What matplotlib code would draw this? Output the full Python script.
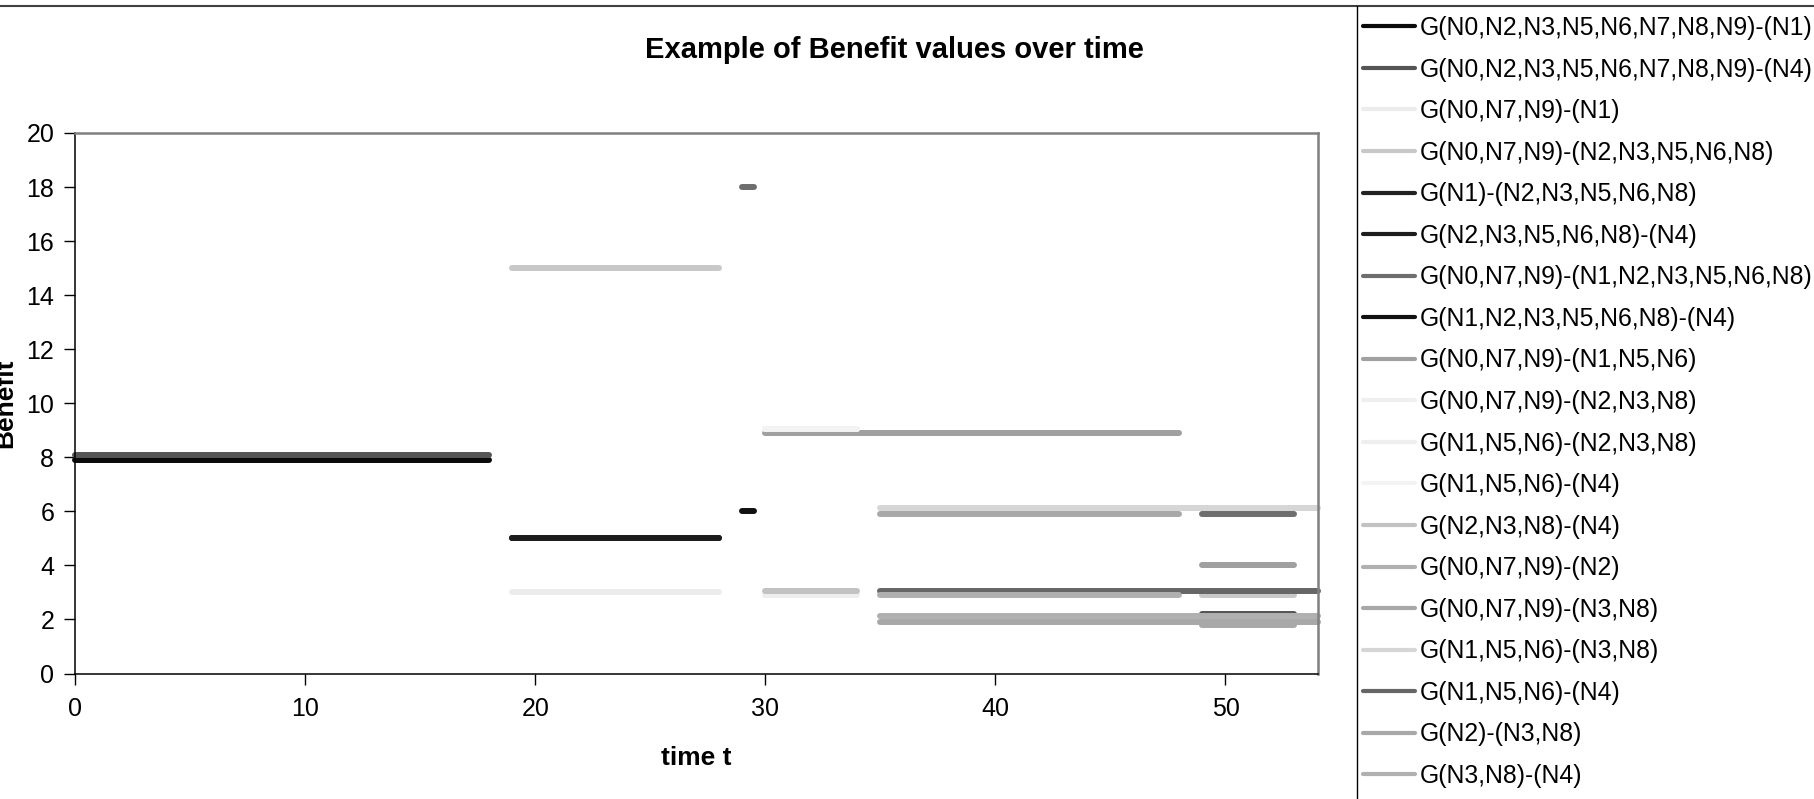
import numpy as np
import matplotlib
matplotlib.use("Agg")
import matplotlib.pyplot as plt
from matplotlib.lines import Line2D

plt.rcParams['font.family'] = ['Liberation Sans', 'DejaVu Sans']

# ---------------- data ----------------
series_labels = [
    "G(N0,N2,N3,N5,N6,N7,N8,N9)-(N1)",
    "G(N0,N2,N3,N5,N6,N7,N8,N9)-(N4)",
    "G(N0,N7,N9)-(N1)",
    "G(N0,N7,N9)-(N2,N3,N5,N6,N8)",
    "G(N1)-(N2,N3,N5,N6,N8)",
    "G(N2,N3,N5,N6,N8)-(N4)",
    "G(N0,N7,N9)-(N1,N2,N3,N5,N6,N8)",
    "G(N1,N2,N3,N5,N6,N8)-(N4)",
    "G(N0,N7,N9)-(N1,N5,N6)",
    "G(N0,N7,N9)-(N2,N3,N8)",
    "G(N1,N5,N6)-(N2,N3,N8)",
    "G(N1,N5,N6)-(N4)",
    "G(N2,N3,N8)-(N4)",
    "G(N0,N7,N9)-(N2)",
    "G(N0,N7,N9)-(N3,N8)",
    "G(N1,N5,N6)-(N3,N8)",
    "G(N1,N5,N6)-(N4)",
    "G(N2)-(N3,N8)",
    "G(N3,N8)-(N4)",
]
series_colors = [
    "#0a0a0a", "#555555", "#ececec", "#c8c8c8", "#222222", "#1c1c1c",
    "#6e6e6e", "#111111", "#a0a0a0", "#efefef", "#eeeeee", "#f3f3f3",
    "#c2c2c2", "#b0b0b0", "#a8a8a8", "#d6d6d6", "#666666", "#a8a8a8",
    "#b0b0b0",
]

# segments: series index (0-based), start time, end time, benefit value
seg_series = [0, 1, 2, 3, 4, 5, 6, 7, 8, 9, 10, 11, 12,
              13, 14, 15, 16, 17, 18, 6, 8, 3, 1, 14]
seg_t0 = [0, 0, 19, 19, 19, 19, 29, 29, 30, 30, 30, 30, 30,
          35, 35, 35, 35, 35, 35, 49, 49, 49, 49, 49]
seg_t1 = [18, 18, 28, 28, 28, 28, 29.5, 29.5, 48, 34, 34, 34, 34,
          54, 48, 54, 54, 54, 48, 53, 53, 53, 53, 53]
seg_value = [7.9, 8.1, 3.0, 15.0, 5.0, 5.0, 18.0, 6.0, 8.9, 9.05, 2.92, 9.05, 3.05,
             2.13, 5.9, 6.13, 3.07, 1.9, 2.92, 5.9, 4.0, 2.92, 2.19, 1.8]

xticks = [0, 10, 20, 30, 40, 50]
yticks = [0, 2, 4, 6, 8, 10, 12, 14, 16, 18, 20]

# ---------------- figure ----------------
W, H = 1814, 799
fig = plt.figure(figsize=(W / 100, H / 100), dpi=100)
ax = fig.add_axes([75.2 / W, 1 - 673.5 / H, (1317.5 - 75.2) / W, (673.5 - 133) / H])

handles = []
for i, (lab, col) in enumerate(zip(series_labels, series_colors)):
    xs, ys = [], []
    for s, t0, t1, v in zip(seg_series, seg_t0, seg_t1, seg_value):
        if s == i:
            if xs:
                xs.append(np.nan)
                ys.append(np.nan)
            xs += [t0, t1]
            ys += [v, v]
    ln, = ax.plot(xs, ys, color=col, lw=4.3, solid_capstyle='round', label=lab,
                  clip_on=False)
    handles.append(ln)

ax.set_xlim(0, 54)
ax.set_ylim(0, 20)
ax.set_xticks(xticks)
ax.set_yticks(yticks)
ax.tick_params(axis='both', direction='out', length=8, width=1.0, colors='black',
               labelsize=18)
ax.tick_params(axis='x', pad=9)
ax.tick_params(axis='y', pad=7)
for sp in ['left', 'bottom']:
    ax.spines[sp].set_color('black')
    ax.spines[sp].set_linewidth(1.1)
for sp in ['top', 'right']:
    ax.spines[sp].set_color('#808080')
    ax.spines[sp].set_linewidth(1.8)

ax.set_xlabel("time t", fontsize=19, fontweight='bold', labelpad=18)
ax.set_ylabel("Benefit", fontsize=19, fontweight='bold')
ax.yaxis.set_label_coords((17 - 75.2) / (1317.5 - 75.2), 0.5)

fig.text(894 / W, 1 - 50 / H, "Example of Benefit values over time",
         fontsize=21, fontweight='bold', ha='center', va='center')

# chart frame lines
fig.add_artist(Line2D([0, 1], [1 - 6 / H, 1 - 6 / H], color='#404040', lw=1.5,
                      transform=fig.transFigure))
fig.add_artist(Line2D([1356.7 / W, 1356.7 / W], [0, 1 - 6 / H], color='black', lw=1.0,
                      transform=fig.transFigure))

leg = fig.legend(handles, series_labels, loc='upper left',
                 bbox_to_anchor=(1363 / W, 1 - 16 / H), frameon=False,
                 borderaxespad=0, borderpad=0, fontsize=17.8,
                 handlelength=2.1, handletextpad=0.2, labelspacing=0.71)
for h in leg.legend_handles:
    h.set_linewidth(3.0)
    h.set_solid_capstyle('round')

fig.savefig("out.png", dpi=100)
